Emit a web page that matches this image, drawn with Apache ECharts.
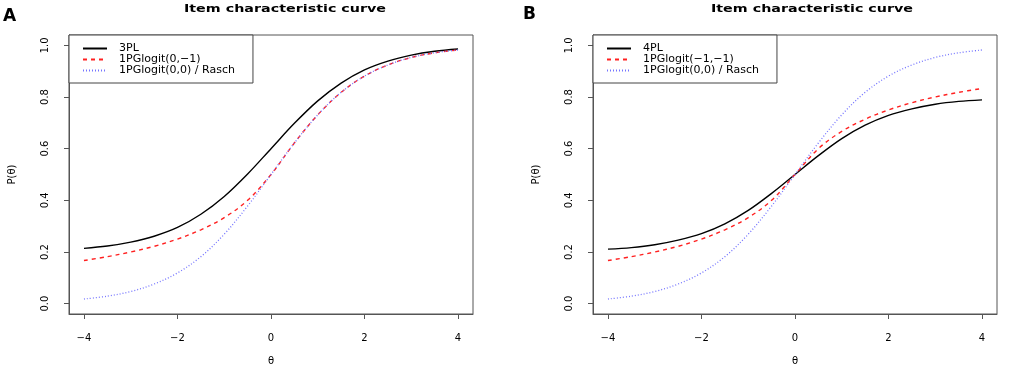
<!DOCTYPE html>
<html>
<head>
<meta charset="utf-8">
<script src="https://cdn.jsdelivr.net/npm/echarts@6/dist/echarts.min.js"></script>
<style>
  html, body { margin: 0; padding: 0; background: #fff; }
  #main { width: 1013px; height: 371px; }
</style>
</head>
<body>
<div id="main"></div>
<script>
// theta grid
var theta = [-4, -3.5, -3, -2.5, -2, -1.5, -1, -0.5, 0, 0.5, 1, 1.5, 2, 2.5, 3, 3.5, 4];

// panel A
var threePL = [0.214, 0.223, 0.238, 0.261, 0.295, 0.346, 0.415, 0.502, 0.600, 0.698, 0.785, 0.854, 0.905, 0.939, 0.962, 0.977, 0.986];
var gLogit0m1 = [0.167, 0.182, 0.200, 0.222, 0.250, 0.286, 0.333, 0.400, 0.500, 0.622, 0.731, 0.818, 0.881, 0.924, 0.953, 0.971, 0.982];
var rasch = [0.018, 0.029, 0.047, 0.076, 0.119, 0.182, 0.269, 0.378, 0.500, 0.622, 0.731, 0.818, 0.881, 0.924, 0.953, 0.971, 0.982];

// panel B
var fourPL = [0.211, 0.217, 0.228, 0.246, 0.271, 0.309, 0.361, 0.427, 0.500, 0.573, 0.639, 0.691, 0.729, 0.754, 0.772, 0.783, 0.789];
var gLogitm1m1 = [0.167, 0.182, 0.200, 0.222, 0.250, 0.286, 0.333, 0.400, 0.500, 0.600, 0.667, 0.714, 0.750, 0.778, 0.800, 0.818, 0.833];

var xTicks = [-4, -2, 0, 2, 4];
var yTicks = [0, 0.2, 0.4, 0.6, 0.8, 1.0];

var namesA = ["3PL", "1PGlogit(0,\u22121)", "1PGlogit(0,0) / Rasch"];
var namesB = ["4PL", "1PGlogit(\u22121,\u22121)", "1PGlogit(0,0) / Rasch"];
var titleText = "Item characteristic curve";

var FONT = "DejaVu Sans, Verdana, sans-serif";

function pairs(ys) {
  return theta.map(function (t, i) { return [t, ys[i]]; });
}

function xAx(idx) {
  return {
    type: "value", gridIndex: idx, min: -4.32, max: 4.32,
    name: "\u03b8", nameLocation: "middle", nameGap: 42,
    nameTextStyle: { fontFamily: FONT, fontSize: 10, color: "#000" },
    axisLine: { show: true, onZero: false, lineStyle: { color: "#555", width: 1 } },
    axisTick: { show: true, inside: false, length: 5, customValues: xTicks, lineStyle: { color: "#555" } },
    axisLabel: {
      customValues: xTicks, margin: 19, color: "#000", fontFamily: FONT, fontSize: 10,
      formatter: function (v) { return String(v).replace("-", "\u2212"); }
    },
    splitLine: { show: false }
  };
}

function yAx(idx) {
  return {
    type: "value", gridIndex: idx, min: -0.04, max: 1.04,
    name: "P(\u03b8)", nameLocation: "middle", nameGap: 52, nameRotate: 90,
    nameTextStyle: { fontFamily: FONT, fontSize: 10, color: "#000" },
    axisLine: { show: true, onZero: false, lineStyle: { color: "#555", width: 1 } },
    axisTick: { show: true, inside: false, length: 5, customValues: yTicks, lineStyle: { color: "#555" } },
    axisLabel: {
      customValues: yTicks, rotate: 90, margin: 19, color: "#000", fontFamily: FONT, fontSize: 10,
      formatter: function (v) { return v.toFixed(1); }
    },
    splitLine: { show: false }
  };
}

function line(name, ys, idx, color, type, width) {
  return {
    name: name, type: "line", xAxisIndex: idx, yAxisIndex: idx,
    data: pairs(ys), smooth: 0.35, showSymbol: false, symbol: "none",
    lineStyle: { color: color, type: type, width: width },
    itemStyle: { color: color },
    emphasis: { disabled: true }, animation: false
  };
}

function legend(names, left) {
  return {
    data: names, orient: "vertical", left: left, top: 35,
    itemWidth: 24, itemHeight: 8, itemGap: 0,
    padding: [8, 18, 7, 13],
    itemStyle: { opacity: 0 },
    borderColor: "#444", borderWidth: 1, borderRadius: 0, backgroundColor: "#fff",
    textStyle: { fontFamily: FONT, fontSize: 11, lineHeight: 10.5, color: "#000", padding: [0, 0, 0, 7] },
    selectedMode: false
  };
}

function titleGraphic(cx) {
  return {
    type: "text", x: cx, y: 9, scaleX: 1.3, silent: true,
    style: { text: titleText, fill: "#000", font: "bold 11px " + FONT, textAlign: "center", textVerticalAlign: "middle" }
  };
}

var chart = echarts.init(document.getElementById("main"), null, { renderer: "canvas" });
chart.setOption({
  animation: false,
  title: [
    { text: "A", left: 3, top: 8, padding: 0, textStyle: { fontFamily: FONT, fontSize: 17, fontWeight: "bold", color: "#000" } },
    { text: "B", left: 523, top: 6, padding: 0, textStyle: { fontFamily: FONT, fontSize: 17, fontWeight: "bold", color: "#000" } }
  ],
  graphic: [titleGraphic(285), titleGraphic(812)],
  grid: [
    { left: 69, top: 35, width: 404, height: 286, show: true, borderColor: "#555", borderWidth: 1, backgroundColor: "transparent" },
    { left: 593, top: 35, width: 404, height: 286, show: true, borderColor: "#555", borderWidth: 1, backgroundColor: "transparent" }
  ],
  xAxis: [xAx(0), xAx(1)],
  yAxis: [yAx(0), yAx(1)],
  legend: [legend(namesA, 69), legend(namesB, 593)],
  series: [
    line(namesA[0], threePL, 0, "#000000", "solid", 1.4),
    line(namesA[1], gLogit0m1, 0, "#ff2020", [4, 4], 1.4),
    line(namesA[2], rasch, 0, "#7575ff", [1, 2], 1.3),
    line(namesB[0], fourPL, 1, "#000000", "solid", 1.4),
    line(namesB[1], gLogitm1m1, 1, "#ff2020", [4, 4], 1.4),
    line(namesB[2], rasch, 1, "#7575ff", [1, 2], 1.3)
  ]
});
</script>
</body>
</html>
